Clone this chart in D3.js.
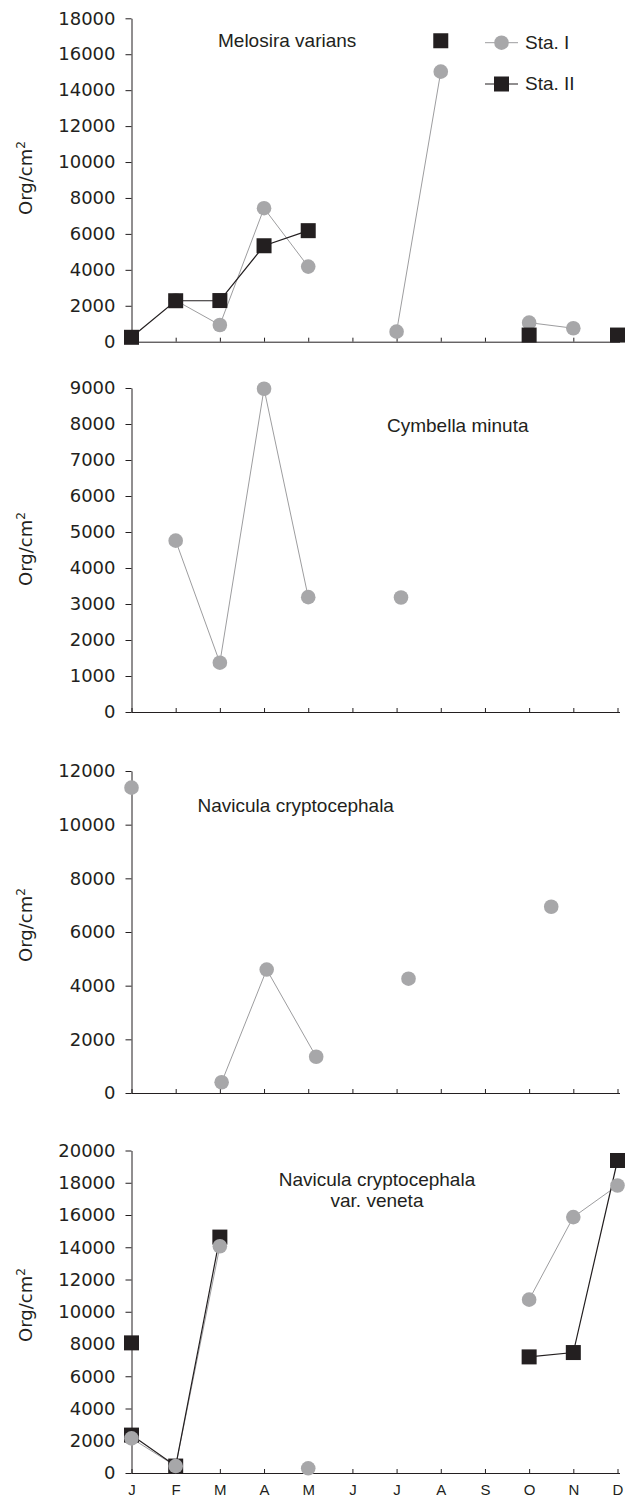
<!DOCTYPE html>
<html><head><meta charset="utf-8">
<script src="https://cdn.jsdelivr.net/npm/d3@7"></script>
<style>body{margin:0;background:#fff} svg{display:block}</style>
</head><body><svg id="c" width="625" height="1499"></svg>
<script>
// ---- data ----
const months = ["J","F","M","A","M","J","J","A","S","O","N","D"];
const monthPos = [0,1,2,3,4,5,6,7,8,9,10,11];
const seriesNames = ["Sta. I","Sta. II"];

// Melosira varians (values per month, null = no sample)
const melosiraStaI  = [null, 2300, 930, 7430, 4180, null, 560, 15030, null, 1060, 750, null];
const melosiraStaII = [245, 2280, 2290, 5340, 6180, null, null, 16750, null, 370, null, 370];

// Cymbella minuta (Sta. I only, sampling position in months)
const cymbellaPos  = [1, 2, 3, 4, 6.1];
const cymbellaStaI = [4760, 1370, 8980, 3190, 3180];

// Navicula cryptocephala (Sta. I only)
const naviculaPos  = [0, 2.04, 3.06, 4.18, 6.27, 9.5];
const naviculaStaI = [11380, 400, 4600, 1350, 4260, 6940];

// Navicula cryptocephala var. veneta
const venetaStaI  = [2150, 430, 14060, null, 290, null, null, null, null, 10750, 15870, 17830];
const venetaStaII = [2350, 430, 14630, null, null, null, null, null, null, 7200, 7470, 19380];
const venetaStaIIExtraPos = [0];
const venetaStaIIExtra    = [8070];

// y-axis tick setups
const yMax  = [18000, 9000, 12000, 20000];
const yStep = [2000, 1000, 2000, 2000];
const titles = [["Melosira varians"], ["Cymbella minuta"], ["Navicula cryptocephala"], ["Navicula cryptocephala","var. veneta"]];

// ---- drawing ----
const INK = "#231f20", GREY = "#a7a7a9";
const svg = d3.select("#c");
const x = d3.scaleLinear().domain([0, 11]).range([131.5, 617.5]);

function pts(pos, vals){ return pos.map((p,i)=>({p, v: vals[i]})).filter(d=>d.v!=null); }
function segments(points){
  const segs=[]; let cur=[];
  points.forEach((d,i)=>{
    if(i>0 && d.p - points[i-1].p > 1.3){ segs.push(cur); cur=[]; }
    cur.push(d);
  });
  if(cur.length) segs.push(cur);
  return segs.filter(s=>s.length>1);
}

function drawSeries(g, y, points, kind){
  const line = d3.line().x(d=>x(d.p)).y(d=>y(d.v));
  g.selectAll(null).data(segments(points)).enter().append("path")
    .attr("d", line).attr("fill","none")
    .attr("stroke", kind==="circle"?"#9d9d9f":INK)
    .attr("stroke-width", kind==="circle"?1:1.2);
}
function drawMarkers(g, y, points, kind){
  if(kind==="circle"){
    g.selectAll(null).data(points).enter().append("circle")
      .attr("cx", d=>x(d.p)).attr("cy", d=>y(d.v)).attr("r", 7.3).attr("fill", GREY);
  } else {
    g.selectAll(null).data(points).enter().append("rect")
      .attr("x", d=>x(d.p)-7.5).attr("y", d=>y(d.v)-7.5).attr("width",15).attr("height",15).attr("fill", INK);
  }
}

function panel(i, y0, yTop, labelY, showMonths){
  const y = d3.scaleLinear().domain([0, yMax[i]]).range([y0, yTop]);
  const g = svg.append("g");
  // y axis
  const ya = g.append("g").attr("transform", `translate(${x(0)},0)`)
    .call(d3.axisLeft(y).tickValues(d3.range(0, yMax[i]+1, yStep[i])).tickSize(6).tickSizeOuter(0).tickPadding(10).tickFormat(d3.format("d")));
  ya.select(".domain").attr("stroke", INK);
  ya.selectAll(".tick line").attr("stroke", INK);
  ya.selectAll(".tick text").attr("font-family","DejaVu Sans").attr("font-size",18).attr("fill",INK);
  // x axis
  const xa = g.append("g").attr("transform", `translate(0,${y0})`)
    .call(d3.axisBottom(x).tickValues(monthPos).tickSize(-4).tickSizeOuter(0).tickPadding(13)
      .tickFormat((d,k)=> showMonths ? months[k] : ""));
  xa.select(".domain").attr("d", `M${x(0)},0.5H620`).attr("stroke", INK);
  xa.selectAll(".tick line").attr("stroke", INK);
  xa.selectAll(".tick text").attr("font-family","Liberation Sans, Arial, sans-serif").attr("font-size",15).attr("fill",INK)
    .attr("dy", null).attr("y", 22);
  // y label
  const t = g.append("text").attr("transform", `translate(32,${labelY}) rotate(-90)`)
    .attr("text-anchor","middle").attr("font-family","DejaVu Sans").attr("font-size",18).attr("fill",INK);
  t.append("tspan").text("Org/cm");
  t.append("tspan").attr("font-size",12).attr("dy",-7).text("2");
  return {g, y};
}

function title(g, lines, xPos, yPos, anchor){
  const t = g.append("text").attr("font-family","Liberation Sans, Arial, sans-serif").attr("font-size",19)
    .attr("fill",INK).attr("text-anchor", anchor);
  lines.forEach((l,k)=> t.append("tspan").attr("x", xPos).attr("y", yPos + k*20.5).text(l));
}

// Panel 1: Melosira varians
{
  const {g, y} = panel(0, 341.7, 18.3, 178, false);
  const a = pts(monthPos, melosiraStaI), b = pts(monthPos, melosiraStaII);
  drawSeries(g, y, a, "circle"); drawSeries(g, y, b, "square");
  drawMarkers(g, y, a, "circle"); drawMarkers(g, y, b, "square");
  title(g, titles[0], 218, 46.5, "start");
  // legend
  const lg = g.append("g");
  [[42.7,"circle"],[84,"square"]].forEach(([ly,kind],k)=>{
    lg.append("line").attr("x1",485).attr("x2",518).attr("y1",ly).attr("y2",ly)
      .attr("stroke", kind==="circle"?"#9d9d9f":INK).attr("stroke-width", kind==="circle"?1:1.2);
    if(kind==="circle") lg.append("circle").attr("cx",501.5).attr("cy",ly).attr("r",7.3).attr("fill",GREY);
    else lg.append("rect").attr("x",494).attr("y",ly-7.5).attr("width",15).attr("height",15).attr("fill",INK);
    lg.append("text").attr("x",525).attr("y",ly+6.3).attr("font-family","Liberation Sans, Arial, sans-serif")
      .attr("font-size",19).attr("fill",INK).text(seriesNames[k]);
  });
}
// Panel 2: Cymbella minuta
{
  const {g, y} = panel(1, 712, 388, 549, false);
  const a = pts(cymbellaPos, cymbellaStaI);
  drawSeries(g, y, a, "circle"); drawMarkers(g, y, a, "circle");
  title(g, titles[1], 387, 432, "start");
}
// Panel 3: Navicula cryptocephala
{
  const {g, y} = panel(2, 1093, 771, 925, false);
  const a = pts(naviculaPos, naviculaStaI);
  drawSeries(g, y, a, "circle"); drawMarkers(g, y, a, "circle");
  title(g, titles[2], 197.5, 812, "start");
}
// Panel 4: Navicula cryptocephala var. veneta
{
  const {g, y} = panel(3, 1473, 1150.5, 1305, true);
  const a = pts(monthPos, venetaStaI), b = pts(monthPos, venetaStaII), e = pts(venetaStaIIExtraPos, venetaStaIIExtra);
  drawSeries(g, y, a, "circle"); drawSeries(g, y, b, "square");
  drawMarkers(g, y, e, "square"); drawMarkers(g, y, b, "square"); drawMarkers(g, y, a, "circle");
  title(g, titles[3], 377, 1186, "middle");
}
</script></body></html>
